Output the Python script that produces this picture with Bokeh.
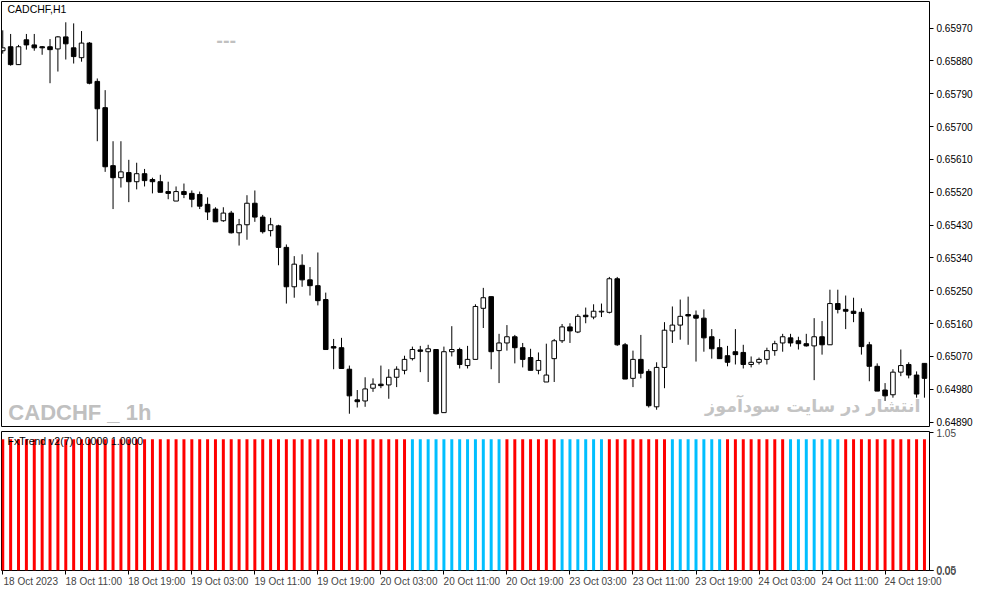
from bokeh.plotting import figure
from bokeh.layouts import column
from bokeh.models import Range1d, FixedTicker, PrintfTickFormatter, ColumnDataSource, Label
from bokeh.embed import file_html
from bokeh.resources import INLINE

symbol_title = "CADCHF,H1"
indicator_title = "FxTrend v2(7) 0.0000 1.0000"
watermark_symbol = "CADCHF _ 1h"
watermark_site = "انتشار در سایت سودآموز"
placeholder = "---"

open_ = [0.65908, 0.65919, 0.65870, 0.65938, 0.65924, 0.65919, 0.65919, 0.65913, 0.65946, 0.65916,
         0.65889, 0.65929, 0.65824, 0.65752, 0.65593, 0.65560, 0.65574, 0.65549, 0.65571, 0.65555,
         0.65549, 0.65522, 0.65496, 0.65522, 0.65517, 0.65514, 0.65487, 0.65474, 0.65442, 0.65463,
         0.65409, 0.65431, 0.65490, 0.65452, 0.65415, 0.65428, 0.65369, 0.65261, 0.65320, 0.65280,
         0.65264, 0.65226, 0.65097, 0.65094, 0.65035, 0.64951, 0.64948, 0.64983, 0.64994, 0.64992,
         0.65013, 0.65032, 0.65064, 0.65088, 0.65083, 0.65089, 0.64916, 0.65083, 0.65089, 0.65045,
         0.65062, 0.65202, 0.65234, 0.65086, 0.65107, 0.65124, 0.65094, 0.65067, 0.65032, 0.65000,
         0.65064, 0.65113, 0.65151, 0.65137, 0.65183, 0.65178, 0.65192, 0.65191, 0.65283, 0.65102,
         0.65010, 0.65062, 0.65029, 0.64932, 0.65040, 0.65140, 0.65156, 0.65185, 0.65183, 0.65175,
         0.65124, 0.65094, 0.65072, 0.65083, 0.65081, 0.65048, 0.65054, 0.65062, 0.65086, 0.65107,
         0.65121, 0.65113, 0.65105, 0.65099, 0.65124, 0.65102, 0.65215, 0.65199, 0.65194, 0.65191,
         0.65102, 0.65043, 0.64978, 0.64965, 0.65027, 0.65048, 0.65019, 0.65051]
high = [0.65964, 0.65954, 0.65924, 0.65954, 0.65954, 0.65921, 0.65940, 0.65948, 0.65986, 0.65983,
        0.65962, 0.65932, 0.65832, 0.65800, 0.65660, 0.65660, 0.65609, 0.65601, 0.65584, 0.65560,
        0.65568, 0.65549, 0.65536, 0.65544, 0.65525, 0.65522, 0.65506, 0.65479, 0.65479, 0.65469,
        0.65447, 0.65512, 0.65525, 0.65458, 0.65450, 0.65431, 0.65377, 0.65345, 0.65350, 0.65315,
        0.65355, 0.65245, 0.65118, 0.65121, 0.65045, 0.64978, 0.65013, 0.65010, 0.65045, 0.65035,
        0.65043, 0.65072, 0.65097, 0.65099, 0.65102, 0.65089, 0.65097, 0.65153, 0.65094, 0.65099,
        0.65213, 0.65258, 0.65234, 0.65132, 0.65156, 0.65129, 0.65107, 0.65091, 0.65081, 0.65105,
        0.65118, 0.65159, 0.65161, 0.65186, 0.65204, 0.65213, 0.65215, 0.65288, 0.65288, 0.65107,
        0.65086, 0.65129, 0.65035, 0.65054, 0.65164, 0.65207, 0.65226, 0.65234, 0.65196, 0.65199,
        0.65145, 0.65118, 0.65099, 0.65145, 0.65102, 0.65070, 0.65067, 0.65094, 0.65113, 0.65132,
        0.65132, 0.65124, 0.65132, 0.65175, 0.65167, 0.65253, 0.65253, 0.65237, 0.65231, 0.65202,
        0.65110, 0.65051, 0.64997, 0.65035, 0.65089, 0.65054, 0.65029, 0.65051]
low = [0.65900, 0.65867, 0.65869, 0.65911, 0.65908, 0.65897, 0.65819, 0.65851, 0.65884, 0.65873,
       0.65878, 0.65816, 0.65660, 0.65576, 0.65474, 0.65533, 0.65493, 0.65528, 0.65536, 0.65517,
       0.65520, 0.65501, 0.65496, 0.65504, 0.65479, 0.65474, 0.65444, 0.65439, 0.65439, 0.65407,
       0.65374, 0.65390, 0.65439, 0.65407, 0.65399, 0.65320, 0.65215, 0.65231, 0.65261, 0.65237,
       0.65210, 0.65089, 0.65035, 0.65037, 0.64913, 0.64930, 0.64932, 0.64973, 0.64983, 0.64954,
       0.64986, 0.65021, 0.65059, 0.65027, 0.65000, 0.64911, 0.64916, 0.65070, 0.65037, 0.65037,
       0.65062, 0.65148, 0.65035, 0.64997, 0.65086, 0.65051, 0.65040, 0.65032, 0.65021, 0.65000,
       0.65000, 0.65107, 0.65107, 0.65134, 0.65161, 0.65172, 0.65178, 0.65188, 0.65099, 0.65008,
       0.64986, 0.65010, 0.64930, 0.64924, 0.64983, 0.65107, 0.65116, 0.65102, 0.65056, 0.65083,
       0.65064, 0.65064, 0.65043, 0.65048, 0.65037, 0.65040, 0.65048, 0.65048, 0.65072, 0.65083,
       0.65097, 0.65089, 0.65097, 0.65005, 0.65075, 0.65102, 0.65188, 0.65145, 0.65164, 0.65075,
       0.65002, 0.64975, 0.64948, 0.64957, 0.65016, 0.65010, 0.64957, 0.64957]
close = [0.65916, 0.65870, 0.65919, 0.65924, 0.65916, 0.65916, 0.65911, 0.65946, 0.65927, 0.65892,
         0.65929, 0.65819, 0.65749, 0.65590, 0.65560, 0.65576, 0.65549, 0.65571, 0.65552, 0.65549,
         0.65520, 0.65517, 0.65522, 0.65514, 0.65501, 0.65482, 0.65466, 0.65439, 0.65463, 0.65409,
         0.65431, 0.65490, 0.65452, 0.65412, 0.65431, 0.65369, 0.65261, 0.65323, 0.65280, 0.65264,
         0.65223, 0.65089, 0.65093, 0.65037, 0.64962, 0.64946, 0.64981, 0.64994, 0.64990, 0.65013,
         0.65035, 0.65062, 0.65089, 0.65084, 0.65091, 0.64913, 0.65083, 0.65089, 0.65048, 0.65062,
         0.65207, 0.65231, 0.65083, 0.65107, 0.65124, 0.65094, 0.65062, 0.65032, 0.65059, 0.65019,
         0.65113, 0.65151, 0.65140, 0.65180, 0.65179, 0.65194, 0.65194, 0.65283, 0.65102, 0.65008,
         0.65062, 0.65024, 0.64935, 0.65040, 0.65142, 0.65156, 0.65180, 0.65181, 0.65175, 0.65121,
         0.65091, 0.65064, 0.65054, 0.65075, 0.65048, 0.65054, 0.65062, 0.65086, 0.65105, 0.65124,
         0.65107, 0.65105, 0.65099, 0.65124, 0.65102, 0.65215, 0.65199, 0.65194, 0.65188, 0.65097,
         0.65043, 0.64975, 0.64962, 0.65027, 0.65045, 0.65019, 0.64967, 0.65010]

# FxTrend state per bar, as runs read left to right: D = down (red), U = up (blue)
trend_runs = [("D", 52), ("U", 12), ("D", 7), ("U", 6), ("D", 8), ("U", 7), ("D", 8), ("U", 7), ("D", 11)]
trend_level = 1.0

price_ticks = [0.64890, 0.64980, 0.65070, 0.65160, 0.65250, 0.65340, 0.65430,
               0.65520, 0.65610, 0.65700, 0.65790, 0.65880, 0.65970]
time_tick_bars = [0, 8, 16, 24, 32, 40, 48, 56, 64, 72, 80, 88, 96, 104, 112]
time_tick_labels = ["18 Oct 2023", "18 Oct 11:00", "18 Oct 19:00", "19 Oct 03:00", "19 Oct 11:00",
                    "19 Oct 19:00", "20 Oct 03:00", "20 Oct 11:00", "20 Oct 19:00", "23 Oct 03:00",
                    "23 Oct 11:00", "23 Oct 19:00", "24 Oct 03:00", "24 Oct 11:00", "24 Oct 19:00"]
ind_ticks = [0.0, 0.001, 1.05]
ind_tick_labels = ["0.00", "0.05", "1.05"]

RED = "#FF0000"
BLUE = "#00BFFF"
AXIS_FONT = "Liberation Sans"

n = len(close)
xs = list(range(n))
trend = []
for code, count in trend_runs:
    trend.extend([code] * count)

x_range = Range1d(-0.16, n - 0.36)

W = 975
p = figure(width=W, height=428, output_backend="svg", toolbar_location=None,
           x_range=x_range, y_range=Range1d(0.64878, 0.66043),
           x_axis_location=None, y_axis_location="right",
           min_border_left=1, min_border_right=44, min_border_top=1, min_border_bottom=2)
p.grid.visible = False
p.outline_line_color = "black"
p.outline_line_width = 1
p.background_fill_color = "white"
p.border_fill_color = "white"

ya = p.yaxis[0]
ya.ticker = FixedTicker(ticks=price_ticks)
ya.formatter = PrintfTickFormatter(format="%.5f")
ya.axis_line_color = None
ya.major_tick_out = 4
ya.major_tick_in = 0
ya.minor_tick_line_color = None
ya.major_label_text_font = AXIS_FONT
ya.major_label_text_font_size = "10px"
ya.major_label_text_color = "black"
ya.major_label_standoff = 3

src = ColumnDataSource(dict(
    x=xs, high=high, low=low,
    top=[max(o, c) for o, c in zip(open_, close)],
    bottom=[min(o, c) for o, c in zip(open_, close)],
    fill=["white" if c >= o else "black" for o, c in zip(open_, close)],
))
p.segment(x0="x", y0="high", x1="x", y1="low", source=src, line_color="black", line_width=1)
p.vbar(x="x", width=0.58, top="top", bottom="bottom", source=src,
       fill_color="fill", line_color="black", line_width=1)

p.add_layout(Label(x=0.6, y=0.66040, text=symbol_title, text_font=AXIS_FONT,
                   text_font_size="10.5px", text_color="black", text_baseline="top"))
p.add_layout(Label(x=27.1, y=0.65938, text=placeholder, text_font="DejaVu Sans",
                   text_font_size="16px", text_font_style="bold", text_color="#c0c0c0",
                   text_baseline="middle"))
p.add_layout(Label(x=0.71, y=0.64916, text=watermark_symbol, text_font="Liberation Sans",
                   text_font_size="22px", text_font_style="bold", text_color="#c0c0c0",
                   text_baseline="alphabetic"))
p.add_layout(Label(x=116.5, y=0.64933, text=watermark_site, text_font="DejaVu Sans",
                   text_font_size="17.5px", text_font_style="bold", text_color="#c4c4c4",
                   text_align="right", text_baseline="middle"))

q = figure(width=W, height=161, output_backend="svg", toolbar_location=None,
           x_range=x_range, y_range=Range1d(0.0, 1.06),
           y_axis_location="right",
           min_border_left=1, min_border_right=44, min_border_top=3, min_border_bottom=0)
q.grid.visible = False
q.outline_line_color = "black"
q.outline_line_width = 1
q.background_fill_color = "white"
q.border_fill_color = "white"

colors = [RED if t == "D" else BLUE for t in trend]
isrc = ColumnDataSource(dict(x=xs, top=[trend_level] * n, color=colors))
q.vbar(x="x", width=0.38, top="top", bottom=0, source=isrc, fill_color="color", line_color=None)

qy = q.yaxis[0]
qy.ticker = FixedTicker(ticks=ind_ticks)
qy.major_label_overrides = {t: s for t, s in zip(ind_ticks, ind_tick_labels)}
qy.axis_line_color = None
qy.major_tick_out = 4
qy.major_tick_in = 0
qy.minor_tick_line_color = None
qy.major_label_text_font = AXIS_FONT
qy.major_label_text_font_size = "10px"
qy.major_label_standoff = 3

# time labels sit to the right of their tick (MT4 style): label anchors are shifted,
# while the tick marks themselves are drawn as minor ticks on the bars.
label_shift = 3.55
label_pos = [b + label_shift for b in time_tick_bars]
qx = q.xaxis[0]
qx.ticker = FixedTicker(ticks=label_pos, minor_ticks=time_tick_bars)
qx.major_label_overrides = {t: s for t, s in zip(label_pos, time_tick_labels)}
qx.axis_line_color = None
qx.major_tick_line_color = None
qx.major_tick_out = 4
qx.major_tick_in = 0
qx.minor_tick_line_color = "black"
qx.minor_tick_out = 4
qx.minor_tick_in = 0
qx.major_label_text_font = AXIS_FONT
qx.major_label_text_font_size = "10px"
qx.major_label_standoff = 1

q.add_layout(Label(x=0.6, y=1.03, text=indicator_title, text_font=AXIS_FONT,
                   text_font_size="10.5px", text_color="black", text_baseline="top"))

layout = column(p, q, spacing=0)
open("out.html", "w").write(file_html(layout, INLINE))
